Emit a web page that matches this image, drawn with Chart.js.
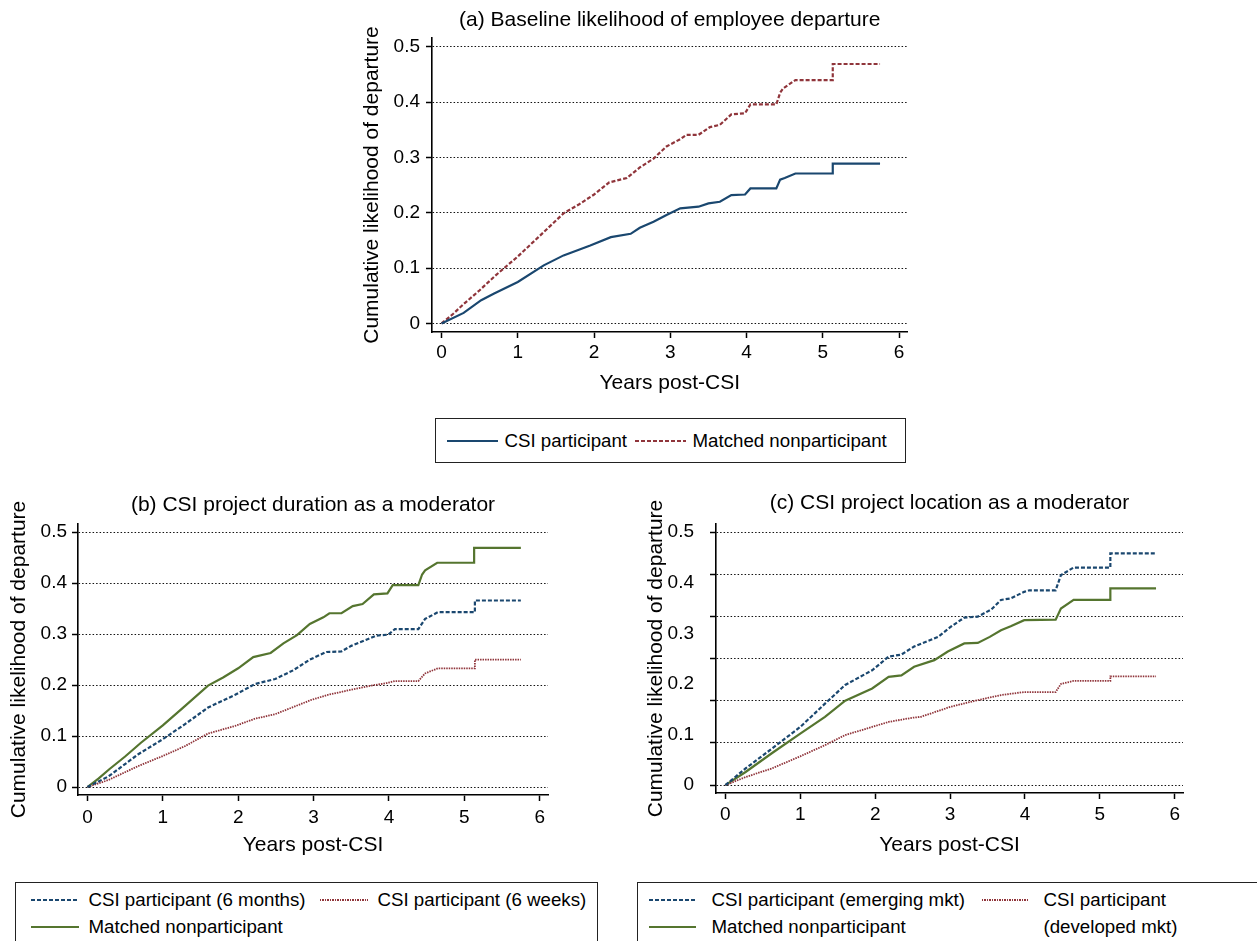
<!DOCTYPE html>
<html>
<head>
<meta charset="utf-8">
<script src="https://cdn.jsdelivr.net/npm/chart.js@4.4.1/dist/chart.umd.min.js"></script>
<style>
  html, body { margin: 0; padding: 0; background: #fff; }
  body { width: 1257px; height: 941px; position: relative; overflow: hidden; font-family: "Liberation Sans", Arial, sans-serif; }
  canvas { position: absolute; }
  .legend { position: absolute; border: 1.5px solid #222; box-sizing: border-box; }
  .item { position: absolute; font-size: 18.7px; line-height: 27px; color: #000; white-space: pre; }
  .swatch { position: absolute; }
</style>
</head>
<body>
<canvas id="chartA" width="555" height="410" style="left:355px;top:0px"></canvas>
<canvas id="chartB" width="552" height="400" style="left:0px;top:470px"></canvas>
<canvas id="chartC" width="556" height="400" style="left:630px;top:470px"></canvas>
<div id="legendA" class="legend" style="left:435px;top:418px;width:471px;height:45px"></div>
<div id="legendB" class="legend" style="left:15px;top:882px;width:583px;height:80px"></div>
<div id="legendC" class="legend" style="left:637px;top:882px;width:640px;height:80px"></div>
<script>
// axis ticks
const xTicks = [0, 1, 2, 3, 4, 5, 6];
const yTicks = [0, 0.1, 0.2, 0.3, 0.4, 0.5];
// panel (c) grid lines do not sit on its labels
const cGridTicks = [0, 0.0833, 0.1667, 0.25, 0.3333, 0.4167, 0.5];

// (a) CSI participant
const aPartT = [0, 0.29, 0.52, 0.69, 1.0, 1.34, 1.6, 1.95, 2.22, 2.48, 2.6, 2.78, 2.95, 3.13, 3.37, 3.5, 3.65, 3.8, 3.98, 4.05, 4.39, 4.44, 4.5, 4.64, 5.13, 5.13, 5.75];
const aPartV = [0, 0.019, 0.042, 0.054, 0.075, 0.105, 0.123, 0.141, 0.156, 0.162, 0.173, 0.184, 0.196, 0.208, 0.211, 0.217, 0.22, 0.232, 0.233, 0.244, 0.244, 0.26, 0.263, 0.271, 0.271, 0.289, 0.289];

// matched nonparticipant, panels (a) and (b)
const matchT = [0, 0.15, 0.29, 0.5, 0.71, 1.0, 1.27, 1.6, 1.8, 2.0, 2.2, 2.43, 2.6, 2.78, 2.95, 3.13, 3.21, 3.37, 3.52, 3.65, 3.8, 3.98, 4.05, 4.39, 4.44, 4.48, 4.64, 5.13, 5.13, 5.75];
const matchV = [0, 0.017, 0.035, 0.06, 0.087, 0.121, 0.156, 0.199, 0.215, 0.233, 0.255, 0.263, 0.282, 0.298, 0.32, 0.333, 0.341, 0.341, 0.355, 0.359, 0.378, 0.38, 0.396, 0.396, 0.417, 0.425, 0.44, 0.44, 0.469, 0.469];

// (b) 6 months
const b6mT = [0, 0.28, 0.67, 1.0, 1.29, 1.6, 1.96, 2.22, 2.49, 2.73, 2.95, 3.17, 3.37, 3.5, 3.7, 3.83, 3.99, 4.08, 4.39, 4.48, 4.65, 5.14, 5.14, 5.75];
const b6mV = [0, 0.021, 0.064, 0.094, 0.123, 0.156, 0.181, 0.202, 0.212, 0.229, 0.25, 0.265, 0.266, 0.277, 0.289, 0.297, 0.299, 0.31, 0.31, 0.33, 0.343, 0.343, 0.366, 0.366];
// (b) 6 weeks
const b6wT = [0, 0.28, 0.67, 1.0, 1.29, 1.6, 1.96, 2.22, 2.49, 2.73, 2.97, 3.19, 3.47, 3.76, 3.97, 4.08, 4.39, 4.48, 4.65, 5.14, 5.14, 5.75];
const b6wV = [0, 0.014, 0.041, 0.061, 0.08, 0.105, 0.12, 0.134, 0.143, 0.157, 0.171, 0.181, 0.19, 0.199, 0.204, 0.208, 0.208, 0.223, 0.233, 0.233, 0.25, 0.25];

// (c) emerging mkt
const cEmT = [0, 0.27, 0.62, 1.0, 1.33, 1.6, 1.96, 2.18, 2.35, 2.52, 2.84, 3.01, 3.19, 3.37, 3.55, 3.68, 3.81, 3.99, 4.06, 4.41, 4.48, 4.65, 5.14, 5.14, 5.75];
const cEmV = [0, 0.033, 0.072, 0.115, 0.161, 0.198, 0.227, 0.254, 0.258, 0.274, 0.293, 0.313, 0.331, 0.333, 0.347, 0.366, 0.369, 0.382, 0.385, 0.385, 0.415, 0.43, 0.43, 0.458, 0.458];
// (c) developed mkt
const cDevT = [0, 0.27, 0.62, 1.0, 1.33, 1.6, 1.96, 2.18, 2.49, 2.61, 3.01, 3.37, 3.68, 3.99, 4.41, 4.48, 4.65, 5.14, 5.14, 5.75];
const cDevV = [0, 0.016, 0.033, 0.057, 0.079, 0.099, 0.115, 0.125, 0.133, 0.135, 0.155, 0.168, 0.178, 0.184, 0.184, 0.2, 0.206, 0.206, 0.215, 0.215];
// (c) matched nonparticipant
const cMatchT = [0, 0.27, 0.62, 1.0, 1.33, 1.6, 1.96, 2.18, 2.35, 2.52, 2.79, 2.97, 3.19, 3.37, 3.53, 3.68, 3.81, 3.99, 4.41, 4.48, 4.65, 5.14, 5.14, 5.75];
const cMatchV = [0, 0.026, 0.063, 0.102, 0.135, 0.167, 0.191, 0.214, 0.217, 0.234, 0.247, 0.264, 0.28, 0.281, 0.293, 0.306, 0.314, 0.326, 0.327, 0.349, 0.366, 0.366, 0.389, 0.389];

const aLabels = ['CSI participant', 'Matched nonparticipant'];
const bLabels = ['CSI participant (6 months)', 'CSI participant (6 weeks)', 'Matched nonparticipant'];
const cLabels = ['CSI participant (emerging mkt)', 'CSI participant\n(developed mkt)', 'Matched nonparticipant'];

const NAVY = '#1a476f', MAROON = '#90353b', GREEN = '#55752f';
const X_MIN = -0.125, X_MAX = 6.11, Y_MIN = -0.0155, Y_MAX = 0.516;

Chart.defaults.font.family = '"Liberation Sans", Arial, sans-serif';
Chart.defaults.color = '#000';

const dashFor = { solid: [], dash: [4, 2], dot: [1.5, 1] };
const widthFor = { solid: 2.2, dash: 2.2, dot: 1.8 };

function pts(t, v) {
    return t.map((x, i) => ({ x: x, y: v[i] }));
}

function buildChart(id, geo, title, series) {
    const datasets = series.map(s => ({
        label: s.label,
        data: pts(s.t, s.v),
        borderColor: s.color,
        borderWidth: widthFor[s.style],
        borderDash: dashFor[s.style],
        pointRadius: 0,
        fill: false,
        tension: 0,
        yAxisID: 'y'
    }));

    const yTitle = {
        display: true, text: 'Cumulative likelihood of departure',
        font: { size: 21 }, padding: { top: geo.yTitlePad, bottom: 0 }
    };

    const scales = {
        x: {
            type: 'linear', position: 'bottom', min: X_MIN, max: X_MAX,
            afterBuildTicks: s => { s.ticks = xTicks.map(v => ({ value: v })); },
            afterFit: s => { s.height = geo.xHeight; },
            grid: { drawOnChartArea: false, drawTicks: true, tickLength: 6, tickColor: '#000', tickWidth: 1.5 },
            border: { display: true, color: '#000', width: 1.6 },
            ticks: { font: { size: 19 }, padding: geo.xTickPad, maxRotation: 0, autoSkip: false, callback: v => String(v) },
            title: { display: true, text: 'Years post-CSI', font: { size: 21 }, padding: { top: 0, bottom: geo.xTitlePad } }
        },
        xTop: {
            type: 'linear', axis: 'x', position: 'top',
            afterFit: s => { s.height = geo.topHeight; },
            grid: { display: false }, border: { display: false }, ticks: { display: false },
            title: { display: true, text: title, font: { size: 21 }, padding: { top: geo.titlePad, bottom: 0 } }
        },
        y: {
            type: 'linear', position: 'left', min: Y_MIN, max: Y_MAX, weight: 0,
            afterBuildTicks: s => { s.ticks = (geo.splitGrid ? cGridTicks : yTicks).map(v => ({ value: v })); },
            afterFit: s => { s.width = geo.yWidth; },
            grid: { color: '#111', lineWidth: 1, drawTicks: true, tickLength: 6, tickColor: '#000', tickWidth: 1.5, tickBorderDash: [] },
            border: { display: true, color: '#000', width: 1.6, dash: [1.5, 2] },
            ticks: { display: !geo.splitGrid, font: { size: 19 }, padding: geo.yTickPad, callback: v => String(v) },
            title: geo.splitGrid ? { display: false } : yTitle
        }
    };

    if (geo.splitGrid) {
        // labels on their own axis, outside the grid axis
        scales.yl = {
            type: 'linear', axis: 'y', position: 'left', min: Y_MIN, max: Y_MAX, weight: 1,
            afterBuildTicks: s => { s.ticks = yTicks.map(v => ({ value: v })); },
            afterFit: s => { s.width = geo.labelWidth; },
            grid: { display: false }, border: { display: false },
            ticks: { font: { size: 19 }, padding: geo.yTickPad, callback: v => String(v) },
            title: yTitle
        };
    }

    return new Chart(document.getElementById(id), {
        type: 'line',
        data: { datasets: datasets },
        options: {
            responsive: false,
            animation: false,
            devicePixelRatio: 1,
            layout: { padding: { left: 0, top: 0, bottom: 0, right: geo.padRight } },
            plugins: { legend: { display: false }, tooltip: { enabled: false }, title: { display: false } },
            scales: scales
        }
    });
}

buildChart('chartA',
    { yWidth: 77, xHeight: 78, topHeight: 38, padRight: 2.5, yTitlePad: 4.9, xTitlePad: 14.4, titlePad: 7.4, xTickPad: 3, yTickPad: 6 },
    '(a) Baseline likelihood of employee departure',
    [
        { label: aLabels[0], t: aPartT, v: aPartV, color: NAVY, style: 'solid' },
        { label: aLabels[1], t: matchT, v: matchV, color: MAROON, style: 'dash' }
    ]);

buildChart('chartB',
    { yWidth: 78, xHeight: 75, topHeight: 54, padRight: 4, yTitlePad: 7, xTitlePad: 12.4, titlePad: 22.4, xTickPad: 5, yTickPad: 5 },
    '(b) CSI project duration as a moderator',
    [
        { label: bLabels[0], t: b6mT, v: b6mV, color: NAVY, style: 'dash' },
        { label: bLabels[1], t: b6wT, v: b6wV, color: MAROON, style: 'dot' },
        { label: bLabels[2], t: matchT, v: matchV, color: GREEN, style: 'solid' }
    ]);

buildChart('chartC',
    { splitGrid: true, yWidth: 6, labelWidth: 80, xHeight: 77, topHeight: 54, padRight: 3, yTitlePad: 13.4, xTitlePad: 12.4, titlePad: 20.7, xTickPad: 4, yTickPad: 8 },
    '(c) CSI project location as a moderator',
    [
        { label: cLabels[0], t: cEmT, v: cEmV, color: NAVY, style: 'dash' },
        { label: cLabels[1], t: cDevT, v: cDevV, color: MAROON, style: 'dot' },
        { label: cLabels[2], t: cMatchT, v: cMatchV, color: GREEN, style: 'solid' }
    ]);

// HTML legends
function swatchBg(color, style) {
    if (style === 'dash') return 'repeating-linear-gradient(to right, ' + color + ' 0 4px, transparent 4px 6px)';
    if (style === 'dot') return 'repeating-linear-gradient(to right, ' + color + ' 0 1.5px, transparent 1.5px 2.5px)';
    return color;
}

function addLegendItem(boxId, sx, sw, tx, rowY, label, color, style) {
    const box = document.getElementById(boxId);
    const bx = box.offsetLeft + 1.5, by = box.offsetTop + 1.5;
    const h = 2;
    const swatch = document.createElement('div');
    swatch.className = 'swatch';
    swatch.style.left = (sx - bx) + 'px';
    swatch.style.top = (rowY - by - h / 2) + 'px';
    swatch.style.width = sw + 'px';
    swatch.style.height = h + 'px';
    swatch.style.background = swatchBg(color, style);
    box.appendChild(swatch);
    const text = document.createElement('div');
    text.className = 'item';
    text.style.left = (tx - bx) + 'px';
    text.style.top = (rowY - by - 13.5) + 'px';
    text.textContent = label;
    box.appendChild(text);
}

addLegendItem('legendA', 447, 51, 505, 441, aLabels[0], NAVY, 'solid');
addLegendItem('legendA', 635, 51, 693, 441, aLabels[1], MAROON, 'dash');

addLegendItem('legendB', 31, 48, 89, 900, bLabels[0], NAVY, 'dash');
addLegendItem('legendB', 320, 48, 378, 900, bLabels[1], MAROON, 'dot');
addLegendItem('legendB', 31, 48, 89, 927, bLabels[2], GREEN, 'solid');

addLegendItem('legendC', 649, 47, 712, 900, cLabels[0], NAVY, 'dash');
addLegendItem('legendC', 982, 47, 1044, 900, cLabels[1], MAROON, 'dot');
addLegendItem('legendC', 649, 47, 712, 927, cLabels[2], GREEN, 'solid');
</script>
</body>
</html>
